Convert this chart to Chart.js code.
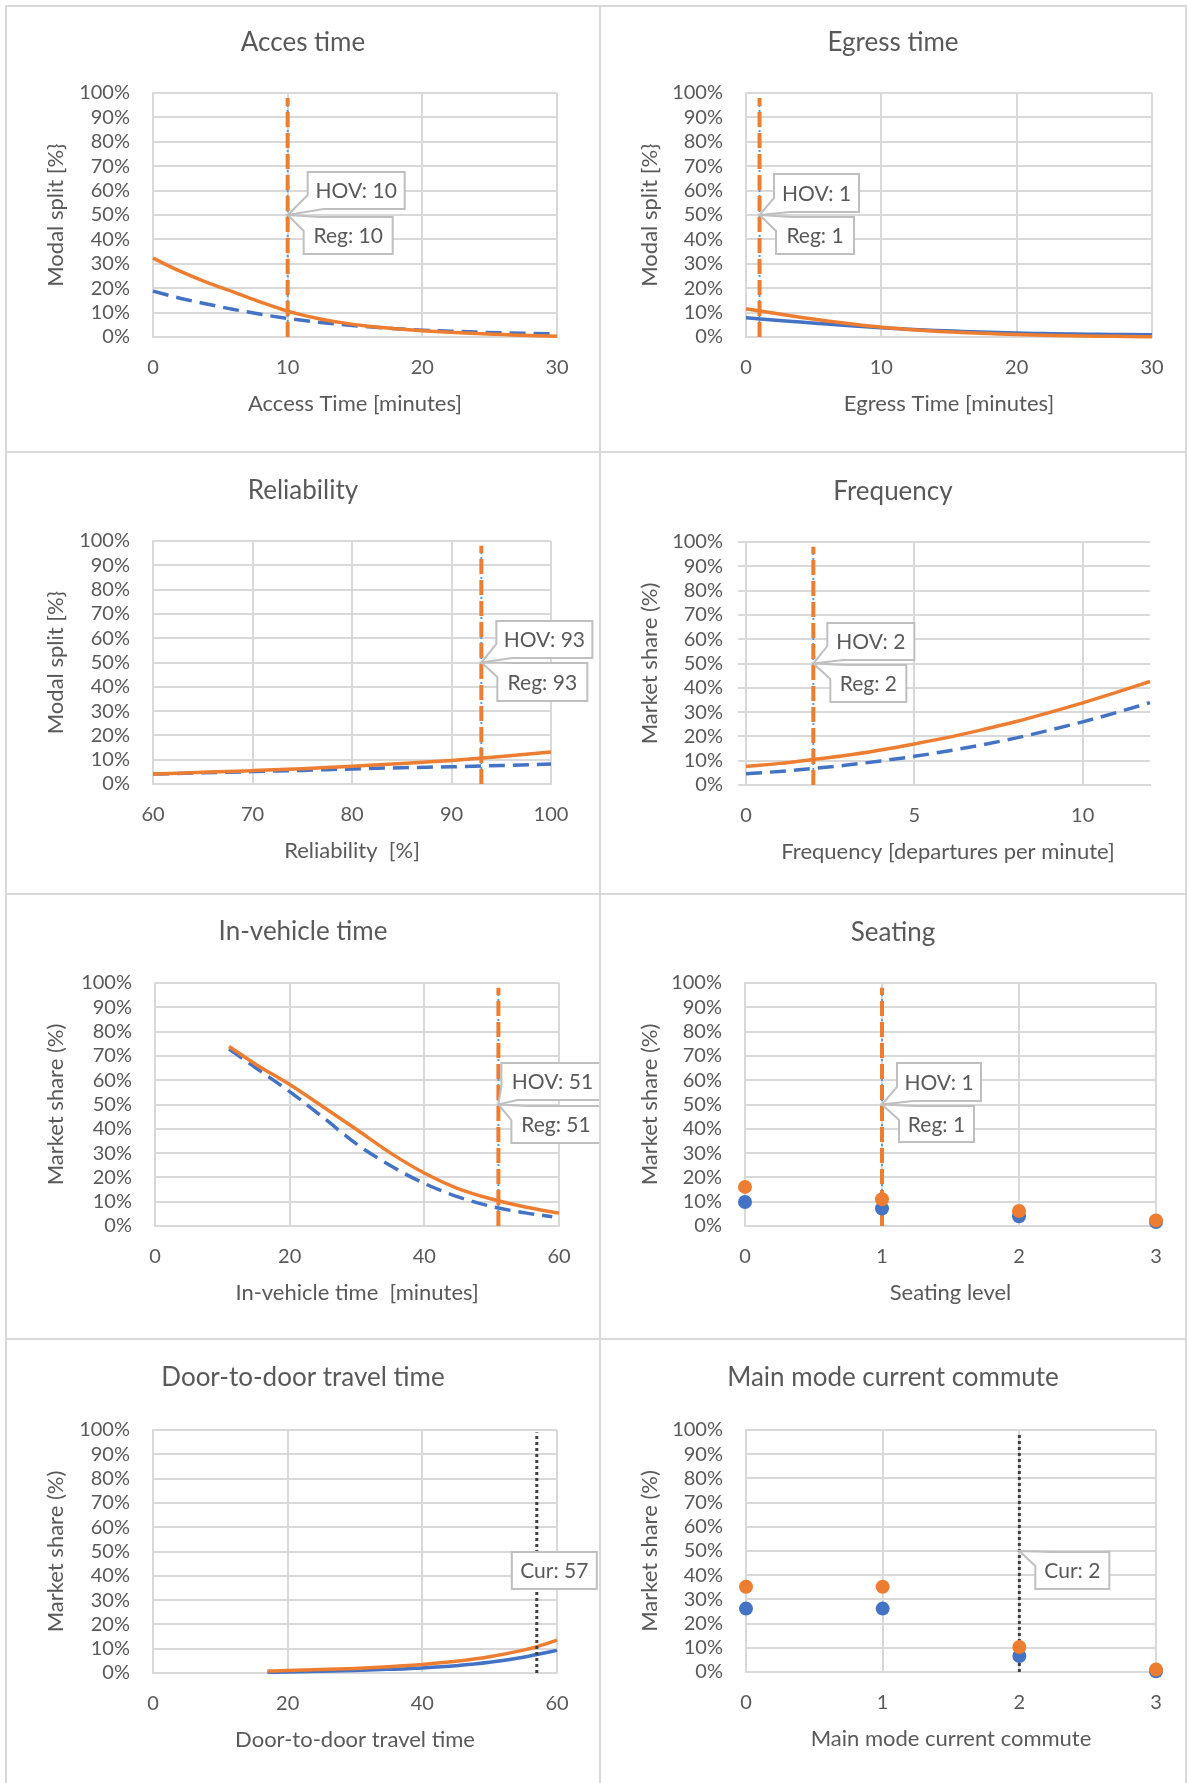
<!DOCTYPE html>
<html>
<head>
<meta charset="utf-8">
<title>Modal split sensitivity</title>
<script src="https://cdn.jsdelivr.net/npm/chart.js@4.4.1/dist/chart.umd.min.js"></script>
<style>
  body { margin: 0; background: #fff; }
  .panel { position: absolute; box-sizing: border-box; border: 2px solid #d9d9d9; background: #fff; overflow: hidden; }
  .panel canvas { position: absolute; left: 0; top: 0; }
</style>
</head>
<body>
<script>
// ---- data (market share in %) ----
const yTicks = [0, 10, 20, 30, 40, 50, 60, 70, 80, 90, 100];

const accessTime = [0, 2, 4, 6, 8, 10, 12, 14, 16, 18, 20, 22, 24, 26, 28, 30];
const accessHov = [32.3, 27.0, 22.4, 18.4, 14.3, 10.6, 7.9, 5.9, 4.4, 3.4, 2.6, 1.9, 1.4, 1.0, 0.6, 0.3];
const accessReg = [18.8, 15.9, 13.5, 11.3, 9.3, 7.6, 6.2, 5.1, 4.2, 3.4, 2.8, 2.4, 2.0, 1.7, 1.5, 1.3];
const accessMark = 10;

const egressTime = [0, 2, 4, 6, 8, 10, 12, 14, 16, 18, 20, 22, 24, 26, 28, 30];
const egressHov = [11.6, 9.8, 8.1, 6.6, 5.2, 4.0, 3.1, 2.4, 1.8, 1.4, 1.0, 0.7, 0.5, 0.35, 0.25, 0.15];
const egressReg = [7.9, 7.0, 6.1, 5.3, 4.5, 3.8, 3.2, 2.7, 2.3, 1.9, 1.6, 1.4, 1.2, 1.1, 1.0, 0.9];
const egressMark = 1;

const reliability = [60, 65, 70, 75, 80, 85, 90, 95, 100];
const relHov = [4.1, 4.8, 5.5, 6.3, 7.3, 8.4, 9.7, 11.3, 13.2];
const relReg = [4.1, 4.6, 5.1, 5.6, 6.2, 6.7, 7.1, 7.6, 8.2];
const relMark = 93;

const frequency = [0, 1, 2, 3, 4, 5, 6, 7, 8, 9, 10, 11, 12];
const freqHov = [7.6, 8.9, 10.5, 12.2, 14.4, 16.9, 19.6, 22.7, 26.0, 29.8, 33.8, 38.1, 42.6];
const freqReg = [4.6, 5.6, 6.8, 8.2, 9.9, 11.8, 14.0, 16.5, 19.3, 22.5, 26.0, 29.8, 33.9];
const freqMark = 2;

const ivtHovX = [11, 15, 20, 25, 30, 35, 40, 45, 50, 55, 60];
const ivtHov = [73.9, 66.5, 58.2, 49, 39.6, 30, 21.8, 15.4, 11.1, 7.8, 5.3];
const ivtRegX = [11, 15, 20, 25, 30, 35, 40, 45, 50, 55, 59];
const ivtReg = [72.8, 65, 55.3, 44.6, 33.6, 24.8, 17.5, 12, 8.0, 5.4, 3.8];
const ivtMark = 51;

const seatLevel = [0, 1, 2, 3];
const seatHov = [16.1, 11.0, 6.2, 2.3];
const seatReg = [9.9, 7.2, 4.0, 1.6];
const seatMark = 1;

const d2dTime = [17, 20, 25, 30, 35, 40, 45, 50, 55, 57, 60];
const d2dHov = [0.8, 1.0, 1.4, 1.9, 2.6, 3.5, 4.8, 6.7, 9.4, 10.8, 13.5];
const d2dReg = [0.3, 0.4, 0.7, 1.0, 1.5, 2.1, 3.0, 4.4, 6.5, 7.6, 9.3];
const d2dCur = 57;

const modeX = [0, 1, 2, 3];
const modeHov = [35.2, 35.2, 10.3, 1.0];
const modeReg = [26.2, 26.2, 6.6, 0.3];
const modeCur = 2;

// ---- styling ----
const ORANGE = "#ED7D31";
const BLUE = "#4472C4";
const LIGHTBLUE = "#5B9BD5";
const GRID = "#d9d9d9";
const TEXT = "#595959";
const FONT = "Lato";
const AXIS_TITLE_SIZE = 22;

const panels = [
  { title: "Acces time", xTitle: "Access Time [minutes]", yTitle: "Modal split [%}",
    xMin: 0, xMax: 30, xTicks: [0, 10, 20, 30],
    hovX: accessTime, hov: accessHov, regX: accessTime, reg: accessReg, regDash: true,
    mark: accessMark, markType: "hovreg" },
  { title: "Egress time", xTitle: "Egress Time [minutes]", yTitle: "Modal split [%}",
    xMin: 0, xMax: 30, xTicks: [0, 10, 20, 30],
    hovX: egressTime, hov: egressHov, regX: egressTime, reg: egressReg, regDash: false,
    mark: egressMark, markType: "hovreg" },
  { title: "Reliability", xTitle: "Reliability  [%]", yTitle: "Modal split [%}",
    xMin: 60, xMax: 100, xTicks: [60, 70, 80, 90, 100],
    hovX: reliability, hov: relHov, regX: reliability, reg: relReg, regDash: true,
    mark: relMark, markType: "hovreg" },
  { title: "Frequency", xTitle: "Frequency [departures per minute]", yTitle: "Market share (%)",
    xMin: 0, xMax: 12, xTicks: [0, 5, 10], tickMarks: true,
    hovX: frequency, hov: freqHov, regX: frequency, reg: freqReg, regDash: true,
    mark: freqMark, markType: "hovreg" },
  { title: "In-vehicle time", xTitle: "In-vehicle time  [minutes]", yTitle: "Market share (%)",
    xMin: 0, xMax: 60, xTicks: [0, 20, 40, 60],
    hovX: ivtHovX, hov: ivtHov, regX: ivtRegX, reg: ivtReg, regDash: true,
    mark: ivtMark, markType: "hovreg" },
  { title: "Seating", xTitle: "Seating level", yTitle: "Market share (%)",
    xMin: 0, xMax: 3, xTicks: [0, 1, 2, 3], points: true,
    hovX: seatLevel, hov: seatHov, regX: seatLevel, reg: seatReg,
    mark: seatMark, markType: "hovreg" },
  { title: "Door-to-door travel time", xTitle: "Door-to-door travel time", yTitle: "Market share (%)",
    xMin: 0, xMax: 60, xTicks: [0, 20, 40, 60],
    hovX: d2dTime, hov: d2dHov, regX: d2dTime, reg: d2dReg, regDash: false,
    mark: d2dCur, markType: "cur" },
  { title: "Main mode current commute", xTitle: "Main mode current commute", yTitle: "Market share (%)",
    xMin: 0, xMax: 3, xTicks: [0, 1, 2, 3], points: true,
    hovX: modeX, hov: modeHov, regX: modeX, reg: modeReg,
    mark: modeCur, markType: "cur" }
];

// page layout: panel boxes, plot areas, title rows
const layoutBoxes = [
  [5, 5, 596, 448], [599, 5, 588, 448],
  [5, 451, 596, 444], [599, 451, 588, 444],
  [5, 893, 596, 447], [599, 893, 588, 447],
  [5, 1338, 596, 447], [599, 1338, 588, 447]
];
const plotRects = [
  [153, 93, 557, 337], [746, 93, 1152, 337],
  [153, 541, 551, 784], [746, 542, 1150, 785],
  [155, 983, 559, 1226], [745, 983, 1156, 1226],
  [153, 1430, 557, 1673], [746, 1430, 1156, 1672]
];
const titleYs = [43, 43, 491, 492, 932, 933, 1378, 1378];

// callout boxes, offsets from the marker point at 50%
const calloutBoxes = [
  [{ dx: 20, dy: -43, w: 97, h: 37, side: "up" }, { dx: 16, dy: 2, w: 89, h: 37, side: "down" }],
  [{ dx: 14.5, dy: -41, w: 85, h: 38, side: "up" }, { dx: 16.5, dy: 2, w: 78, h: 37, side: "down" }],
  [{ dx: 15, dy: -41.5, w: 96, h: 37, side: "up" }, { dx: 16, dy: 0.5, w: 90, h: 38, side: "down" }],
  [{ dx: 14, dy: -40.5, w: 87, h: 37, side: "up" }, { dx: 17, dy: 1.5, w: 76, h: 37, side: "down" }],
  [{ dx: 3, dy: -41.5, w: 102, h: 37, side: "up" }, { dx: 13, dy: 1.5, w: 89, h: 37, side: "down" }],
  [{ dx: 15, dy: -41.5, w: 84, h: 38, side: "up" }, { dx: 17, dy: 1.5, w: 75, h: 36, side: "down" }],
  [{ dx: -25, dy: 0.5, w: 85, h: 37, side: "none" }],
  [{ dx: 16, dy: 1, w: 74, h: 37, side: "down" }]
];

function pairs(xs, ys) {
  return xs.map((x, i) => ({ x: x, y: ys[i] }));
}

const panelText = {
  id: "panelText",
  afterDraw(chart, args, opts) {
    const ctx = chart.ctx;
    ctx.save();
    ctx.textAlign = "center";
    ctx.textBaseline = "middle";
    ctx.fillStyle = TEXT;
    ctx.font = "26px " + FONT;
    ctx.fillText(opts.title, chart.width / 2, opts.titleY);

    const ax = chart.scales.x.getPixelForValue(opts.mark);
    const ay = chart.scales.y.getPixelForValue(50);
    opts.callouts.forEach(c => {
      const bx = ax + c.dx, by = ay + c.dy;
      ctx.beginPath();
      if (c.side === "up") {
        ctx.moveTo(bx, by);
        ctx.lineTo(bx + c.w, by);
        ctx.lineTo(bx + c.w, by + c.h);
        ctx.lineTo(bx + 16, by + c.h);
        ctx.lineTo(ax, ay);
        ctx.lineTo(bx, by + c.h - 14);
      } else if (c.side === "down") {
        ctx.moveTo(ax, ay);
        ctx.lineTo(bx + 16, by);
        ctx.lineTo(bx + c.w, by);
        ctx.lineTo(bx + c.w, by + c.h);
        ctx.lineTo(bx, by + c.h);
        ctx.lineTo(bx, by + 14);
      } else {
        ctx.rect(bx, by, c.w, c.h);
      }
      ctx.closePath();
      ctx.fillStyle = "#fff";
      ctx.fill();
      ctx.strokeStyle = "#bfbfbf";
      ctx.lineWidth = 2;
      ctx.stroke();
      ctx.fillStyle = TEXT;
      ctx.font = "21px " + FONT;
      ctx.fillText(c.text, bx + c.w / 2, by + c.h / 2 + 1);
    });
    ctx.restore();
  }
};

function buildDatasets(p) {
  const marks = [];
  if (p.markType === "cur") {
    marks.push({ data: [{ x: p.mark, y: 0 }, { x: p.mark, y: 99 }], borderColor: "#404040",
      borderWidth: 3, borderDash: [3, 3], showLine: true, pointRadius: 0 });
  } else {
    marks.push({ data: [{ x: p.mark, y: 0 }, { x: p.mark, y: 98 }], borderColor: ORANGE,
      borderWidth: 4, borderDash: [15, 6], showLine: true, pointRadius: 0 });
    marks.push({ data: [{ x: p.mark, y: 0 }, { x: p.mark, y: 98 }], borderColor: LIGHTBLUE,
      borderWidth: 2, borderDash: [2, 3], showLine: true, pointRadius: 0 });
  }
  let series;
  if (p.points) {
    series = [
      { data: pairs(p.hovX, p.hov), showLine: false, pointRadius: 7, backgroundColor: ORANGE, borderWidth: 0 },
      { data: pairs(p.regX, p.reg), showLine: false, pointRadius: 7, backgroundColor: BLUE, borderWidth: 0 }
    ];
    return series.concat(marks).map(d => Object.assign({ clip: false }, d));
  }
  series = [
    { data: pairs(p.hovX, p.hov), showLine: true, pointRadius: 0, borderColor: ORANGE, borderWidth: 3.5,
      cubicInterpolationMode: "monotone" },
    { data: pairs(p.regX, p.reg), showLine: true, pointRadius: 0, borderColor: BLUE, borderWidth: 3.5,
      borderDash: p.regDash ? [16, 8] : [], cubicInterpolationMode: "monotone" }
  ];
  return marks.concat(series).map(d => Object.assign({ clip: false }, d));
}

panels.forEach((p, i) => {
  const [bx, by, bw, bh] = layoutBoxes[i];
  const [pl, pt, pr, pb] = plotRects[i];
  const W = bw - 4, H = bh - 4;
  const ox = bx + 2, oy = by + 2;

  const div = document.createElement("div");
  div.className = "panel";
  div.style.left = bx + "px";
  div.style.top = by + "px";
  div.style.width = bw + "px";
  div.style.height = bh + "px";
  const cv = document.createElement("canvas");
  cv.width = W;
  cv.height = H;
  cv.style.width = W + "px";
  cv.style.height = H + "px";
  div.appendChild(cv);
  document.body.appendChild(div);

  const L = pl - ox, T = pt - oy, R = W - (pr - ox), B = H - (pb - oy);
  const halfLine = AXIS_TITLE_SIZE * 1.2 / 2;
  const xTitleMid = pb + 67 - oy;
  const tickLen = p.tickMarks ? 8 : 0;
  const labels = p.markType === "cur" ? ["Cur: " + p.mark] : ["HOV: " + p.mark, "Reg: " + p.mark];

  new Chart(cv, {
    type: "scatter",
    data: { datasets: buildDatasets(p) },
    options: {
      responsive: false,
      animation: false,
      events: [],
      layout: { padding: { left: 0, top: T, right: R, bottom: 0 } },
      plugins: {
        legend: { display: false },
        tooltip: { enabled: false },
        panelText: {
          title: p.title,
          titleY: titleYs[i] - oy,
          mark: p.mark,
          callouts: calloutBoxes[i].map((c, k) => Object.assign({ text: labels[k] }, c))
        }
      },
      scales: {
        x: {
          type: "linear",
          min: p.xMin,
          max: p.xMax,
          afterBuildTicks: s => { s.ticks = p.xTicks.map(v => ({ value: v })); },
          ticks: { padding: 19, color: TEXT, font: { family: FONT, size: 20 }, maxRotation: 0, autoSkip: false },
          grid: { color: GRID, lineWidth: 2, drawTicks: false },
          border: { color: GRID, width: 2 },
          title: { display: true, text: p.xTitle, color: TEXT, font: { family: FONT, size: AXIS_TITLE_SIZE },
            padding: { top: 0, bottom: H - halfLine - xTitleMid } },
          afterFit: s => { s.height = B; }
        },
        y: {
          min: 0,
          max: 100,
          afterBuildTicks: s => { s.ticks = yTicks.map(v => ({ value: v })); },
          ticks: { padding: 23 - tickLen, color: TEXT, font: { family: FONT, size: 20 }, autoSkip: false,
            callback: v => v + "%" },
          grid: { color: GRID, lineWidth: 2, drawTicks: !!p.tickMarks, tickLength: 8 },
          border: { color: GRID, width: 2 },
          title: { display: true, text: p.yTitle, color: TEXT, font: { family: FONT, size: AXIS_TITLE_SIZE },
            padding: { top: 49 - halfLine, bottom: 0 } },
          afterFit: s => { s.width = L; }
        }
      }
    },
    plugins: [panelText]
  });
});
</script>
</body>
</html>
